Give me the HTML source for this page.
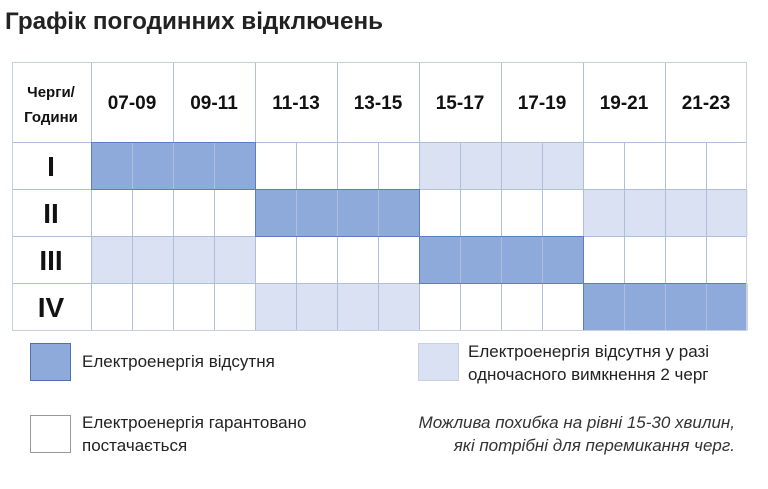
<!DOCTYPE html>
<html><head><meta charset="utf-8"><style>
body{margin:0;background:#fff;width:768px;height:484px;overflow:hidden}
</style></head><body>
<svg width="768" height="484" xmlns="http://www.w3.org/2000/svg" font-family="Liberation Sans, DejaVu Sans, sans-serif">
<text x="5" y="29" font-size="24" font-weight="bold" fill="#222" textLength="378" lengthAdjust="spacingAndGlyphs">Графік погодинних відключень</text>
<rect x="91.5" y="142.5" width="164" height="47" fill="#8eaadb"/>
<rect x="419.5" y="142.5" width="164" height="47" fill="#d9e1f2"/>
<rect x="255.5" y="189.5" width="164" height="47" fill="#8eaadb"/>
<rect x="583.5" y="189.5" width="164" height="47" fill="#d9e1f2"/>
<rect x="91.5" y="236.5" width="164" height="47" fill="#d9e1f2"/>
<rect x="419.5" y="236.5" width="164" height="47" fill="#8eaadb"/>
<rect x="255.5" y="283.5" width="164" height="47" fill="#d9e1f2"/>
<rect x="583.5" y="283.5" width="164" height="47" fill="#8eaadb"/>
<g stroke="#b0bfd8" stroke-width="1">
<line x1="12" y1="142.5" x2="747" y2="142.5"/>
<line x1="12" y1="189.5" x2="747" y2="189.5"/>
<line x1="12" y1="236.5" x2="747" y2="236.5"/>
<line x1="12" y1="283.5" x2="747" y2="283.5"/>
<line x1="91.5" y1="62" x2="91.5" y2="330"/>
<line x1="173.5" y1="62" x2="173.5" y2="330"/>
<line x1="255.5" y1="62" x2="255.5" y2="330"/>
<line x1="337.5" y1="62" x2="337.5" y2="330"/>
<line x1="419.5" y1="62" x2="419.5" y2="330"/>
<line x1="501.5" y1="62" x2="501.5" y2="330"/>
<line x1="583.5" y1="62" x2="583.5" y2="330"/>
<line x1="665.5" y1="62" x2="665.5" y2="330"/>
<line x1="132.5" y1="142" x2="132.5" y2="330"/>
<line x1="214.5" y1="142" x2="214.5" y2="330"/>
<line x1="296.5" y1="142" x2="296.5" y2="330"/>
<line x1="378.5" y1="142" x2="378.5" y2="330"/>
<line x1="460.5" y1="142" x2="460.5" y2="330"/>
<line x1="542.5" y1="142" x2="542.5" y2="330"/>
<line x1="624.5" y1="142" x2="624.5" y2="330"/>
<line x1="706.5" y1="142" x2="706.5" y2="330"/>
</g>
<g fill="none" stroke="#5b7fc0">
<rect x="91.5" y="142.5" width="164" height="47"/>
<rect x="255.5" y="189.5" width="164" height="47"/>
<rect x="419.5" y="236.5" width="164" height="47"/>
<rect x="583.5" y="283.5" width="163" height="47"/>
</g>
<rect x="12.5" y="62.5" width="734" height="268" fill="none" stroke="#c8d0dc"/>
<g font-size="19" font-weight="bold" text-anchor="middle" fill="#111">
<text x="132" y="109">07-09</text><text x="214" y="109">09-11</text><text x="296" y="109">11-13</text><text x="378" y="109">13-15</text>
<text x="460" y="109">15-17</text><text x="542" y="109">17-19</text><text x="624" y="109">19-21</text><text x="706" y="109">21-23</text>
</g>
<g font-size="28" font-weight="bold" text-anchor="middle" fill="#111">
<text x="51" y="176">I</text><text x="51" y="223">II</text><text x="51" y="270">III</text><text x="51" y="317">IV</text>
</g>
<text x="51" y="97" font-size="15" font-weight="bold" text-anchor="middle" fill="#111">Черги/</text>
<text x="51" y="122" font-size="15" font-weight="bold" text-anchor="middle" fill="#111">Години</text>
<rect x="30.5" y="343.5" width="40" height="37" fill="#8eaadb" stroke="#4f72b0"/>
<text x="82" y="367" font-size="17" fill="#222">Електроенергія відсутня</text>
<rect x="418.5" y="343.5" width="40" height="37" fill="#d9e1f2" stroke="#c8d0dc"/>
<text x="468" y="357" font-size="17" fill="#222">Електроенергія відсутня у разі</text>
<text x="468" y="380" font-size="17" fill="#222">одночасного вимкнення 2 черг</text>
<rect x="30.5" y="415.5" width="40" height="37" fill="#fff" stroke="#999"/>
<text x="82" y="428" font-size="17" fill="#222">Електроенергія гарантовано</text>
<text x="82" y="451" font-size="17" fill="#222">постачається</text>
<text x="735" y="428" font-size="17" font-style="italic" text-anchor="end" fill="#333">Можлива похибка на рівні 15-30 хвилин,</text>
<text x="735" y="451" font-size="17" font-style="italic" text-anchor="end" fill="#333">які потрібні для перемикання черг.</text>
</svg>
</body></html>
